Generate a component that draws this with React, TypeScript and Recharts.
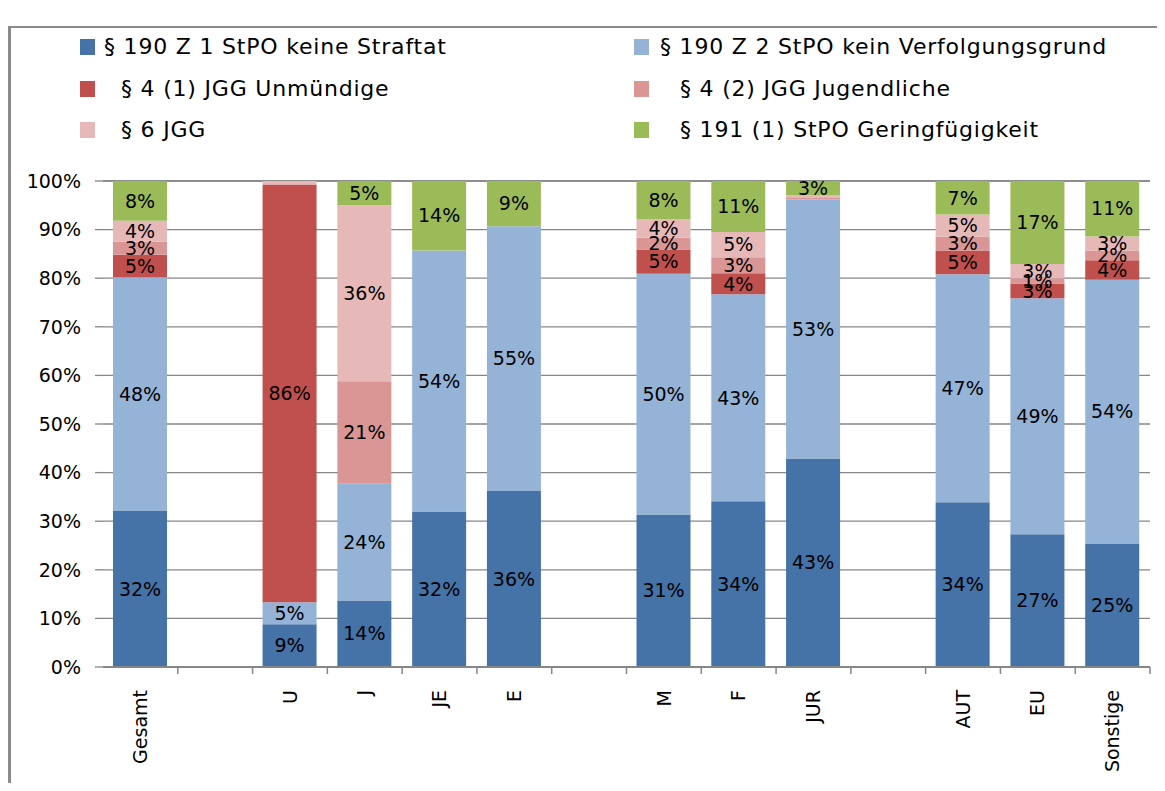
import React from 'react';
import { BarChart, Bar, XAxis, YAxis, CartesianGrid, Legend, LabelList } from 'recharts';

const categories = ['Gesamt', '', 'U', 'J', 'JE', 'E', '', 'M', 'F', 'JUR', '', 'AUT', 'EU', 'Sonstige'];

// shares in percent, bottom to top of each stack
const keineStraftat = [32.1, 0, 8.8, 13.7, 32.0, 36.2, 0, 31.4, 34.1, 42.9, 0, 33.9, 27.3, 25.4];
const keinVerfolgungsgrund = [48.1, 0, 4.5, 24.0, 53.7, 54.5, 0, 49.5, 42.6, 53.3, 0, 46.9, 48.6, 54.3];
const unmuendige = [4.6, 0, 86.0, 0, 0, 0, 0, 5.0, 4.3, 0, 0, 4.9, 3.0, 4.0];
const jugendliche = [2.7, 0, 0, 21.1, 0, 0, 0, 2.4, 3.3, 0.3, 0, 2.9, 1.1, 2.0];
const jgg6 = [4.3, 0, 0.7, 36.2, 0, 0, 0, 3.9, 5.2, 0.6, 0, 4.5, 2.9, 2.9];
const geringfuegigkeit = [8.2, 0, 0, 5.0, 14.3, 9.3, 0, 7.8, 10.5, 2.9, 0, 6.9, 17.1, 11.4];

const yTicks = [0, 10, 20, 30, 40, 50, 60, 70, 80, 90, 100];

const series = [
    { key: 'straftat', name: '§ 190 Z 1 StPO keine Straftat', color: '#4572A7', values: keineStraftat },
    { key: 'verfolgung', name: '§ 190 Z 2 StPO kein Verfolgungsgrund', color: '#95B3D7', values: keinVerfolgungsgrund },
    { key: 'unmuendige', name: '§ 4 (1) JGG Unmündige', color: '#C0504D', values: unmuendige },
    { key: 'jugendliche', name: '§ 4 (2) JGG Jugendliche', color: '#D99694', values: jugendliche },
    { key: 'jgg6', name: '§ 6 JGG', color: '#E6B9B8', values: jgg6 },
    { key: 'gering', name: '§ 191 (1) StPO Geringfügigkeit', color: '#9BBB59', values: geringfuegigkeit },
];

const data = categories.map((name, i) => {
    const row: Record<string, string | number> = { name };
    series.forEach(s => { row[s.key] = s.values[i]; });
    return row;
});

const FONT = '"DejaVu Sans", Verdana, sans-serif';
const W = 1165;
const H = 791;
const M = { top: 181, right: 15, bottom: 24, left: 13 };
const Y_AXIS_W = 90;
const X_AXIS_H = 100;
const BAND = (W - M.left - Y_AXIS_W - M.right) / categories.length;

// legend placement (two columns, Excel-style)
const legendCols = [
    { box: 80, text: [104, 121, 121] },
    { box: 634, text: [660, 680, 680] },
];
const legendRows = [47, 89, 130];
const legendOrder = [
    ['straftat', 'unmuendige', 'jgg6'],
    ['verfolgung', 'jugendliche', 'gering'],
];

const renderLegend = () => (
    <div style={{ position: 'relative', width: W, height: 170, fontFamily: FONT, fontSize: 22, letterSpacing: 0.8, color: '#000' }}>
        {legendOrder.map((col, ci) =>
            col.map((key, ri) => {
                const s = series.find(x => x.key === key)!;
                return (
                    <React.Fragment key={key}>
                        <div style={{
                            position: 'absolute', left: legendCols[ci].box, top: legendRows[ri] - 8,
                            width: 15, height: 16, background: s.color,
                        }} />
                        <div style={{
                            position: 'absolute', left: legendCols[ci].text[ri], top: legendRows[ri] - 14,
                            whiteSpace: 'nowrap', lineHeight: '28px',
                        }}>{s.name}</div>
                    </React.Fragment>
                );
            })
        )}
    </div>
);

const XTick = (props: any) => {
    const { x, y, payload } = props;
    return (
        <g>
            <line x1={x + BAND / 2} x2={x + BAND / 2} y1={y} y2={y + 7} stroke="#868686" strokeWidth={1.5} />
            <text
                x={x}
                y={y + 23}
                transform={`rotate(-90, ${x}, ${y + 23})`}
                textAnchor="end"
                dy="0.35em"
                fontSize={19}
                fontFamily={FONT}
                fill="#000"
            >
                {payload.value}
            </text>
        </g>
    );
};

const fmtLabel = (v: any) => (typeof v === 'number' && v >= 1 ? `${Math.round(v)}%` : '');

export default function App() {
    return (
        <div style={{ position: 'relative', width: W, height: H, margin: -8, overflow: 'hidden', background: '#fff', fontFamily: FONT }}>
            <div style={{
                position: 'absolute', left: 8, top: 26, width: W + 40, height: H + 40,
                borderLeft: '3px solid #8a8a8a', borderTop: '2px solid #8a8a8a',
            }} />
            <div style={{ position: 'absolute', left: 0, top: 0 }}>
                <BarChart width={W} height={H} data={data} margin={M} barSize={54}>
                    <CartesianGrid vertical={false} stroke="#868686" strokeWidth={1.3} />
                    <XAxis
                        dataKey="name"
                        interval={0}
                        height={X_AXIS_H}
                        tickSize={0}
                        tickMargin={0}
                        tickLine={false}
                        tick={<XTick />}
                        axisLine={{ stroke: '#868686', strokeWidth: 2 }}
                    />
                    <YAxis
                        width={Y_AXIS_W}
                        domain={[0, 100]}
                        ticks={yTicks}
                        interval={0}
                        tickFormatter={(v: number) => `${v}%`}
                        axisLine={false}
                        tickSize={8}
                        tickMargin={14}
                        tickLine={{ stroke: '#868686', strokeWidth: 1.3 }}
                        tick={{ fontSize: 19, fill: '#000', fontFamily: FONT }}
                    />
                    <Legend
                        content={renderLegend}
                        layout="horizontal"
                        verticalAlign="middle"
                        align="center"
                        wrapperStyle={{ top: 0, left: 0, width: W, height: 170 }}
                    />
                    {series.map(s => (
                        <Bar key={s.key} dataKey={s.key} name={s.name} stackId="a" fill={s.color} isAnimationActive={false}>
                            <LabelList
                                dataKey={s.key}
                                position="center"
                                formatter={fmtLabel}
                                fill="#000"
                                fontSize={19}
                                fontFamily={FONT}
                            />
                        </Bar>
                    ))}
                </BarChart>
            </div>
        </div>
    );
}
